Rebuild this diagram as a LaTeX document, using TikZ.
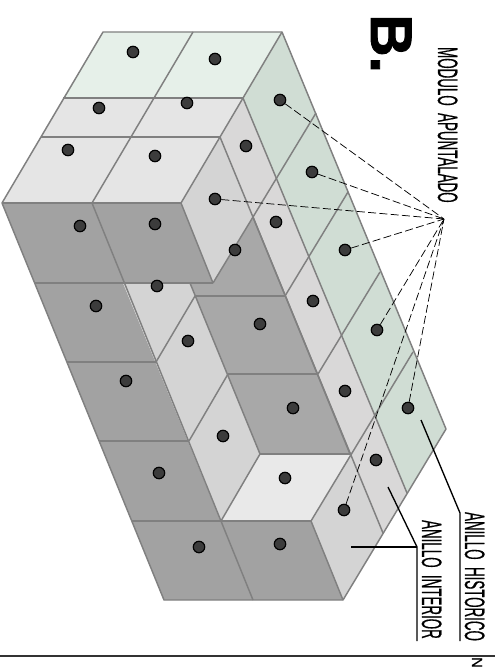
\documentclass[tikz,border=0pt]{standalone}
\usepackage{fontspec}
\setmainfont{Liberation Sans}
\newfontfamily\tagfont[FakeBold=0.7]{Liberation Sans}
\newfontfamily\titlefont[FakeBold=1.5]{Liberation Sans Bold}
\definecolor{darkface}{HTML}{A2A2A2}
\definecolor{floorface}{HTML}{A8A8A8}
\definecolor{wallface}{HTML}{D4D4D4}
\definecolor{ringface}{HTML}{D9D8D8}
\definecolor{topface}{HTML}{E5E5E5}
\definecolor{paleface}{HTML}{E9E9E9}
\definecolor{greentop}{HTML}{E6F0E9}
\definecolor{greenface}{HTML}{D0DDD4}
\definecolor{edgecol}{HTML}{808080}
\definecolor{dotcol}{HTML}{3C3C3C}

\begin{document}
\begin{tikzpicture}[x=0.75pt, y=-0.75pt,
    edge/.style={draw=edgecol, line width=1.1pt, line join=round},
    pin/.style={circle, draw=black, fill=dotcol, line width=0.9pt, minimum size=8.6pt, inner sep=0pt},
    tag/.style={rotate=-90, xscale=0.477, anchor=base west, inner sep=0pt, font=\fontsize{21}{21}\tagfont},
    leader/.style={draw=black, line width=1pt},
    hint/.style={draw=black, line width=0.55pt, dash pattern=on 6pt off 2.5pt}]

    \useasboundingbox (0,0) rectangle (495,667);

    % Top faces
    \fill[greentop] (103,32) -- (282,32) -- (243,98) -- (63,98) -- cycle;
    \fill[topface] (63,98) -- (243,98) -- (181,203) -- (2,203) -- cycle;

    % Outer rings
    \fill[greenface] (282,32) -- (446,429) -- (407,493) -- (243,98) -- cycle;
    \fill[ringface] (243,98) -- (407,493) -- (383,533) -- (220,137) -- cycle;
    \fill[wallface] (220,137) -- (383,533) -- (343,600) -- (311,521) -- (350,454) -- (253,217) -- (213,283) -- (181,203) -- cycle;

    % Dark faces
    \fill[darkface] (2,203) -- (181,203) -- (213,283) -- (123,283) -- (253,600) -- (164,600) -- cycle;
    \fill[darkface] (221,521) -- (311,521) -- (343,600) -- (253,600) -- cycle;
    \fill[floorface] (190,283) -- (213,283) -- (253,217) -- (350,454) -- (260,454) -- (195,296) -- cycle;

    % Central strip
    \fill[wallface] (123,283) -- (190,283) -- (195,296) -- (260,454) -- (221,521) -- cycle;
    \fill[paleface] (221,521) -- (260,454) -- (350,454) -- (311,521) -- cycle;

    % Long edges, going down the block
    \draw[edge] (2,203) -- (164,600) -- (343,600) -- (446,429) -- (282,32) -- (103,32) -- cycle;
    \draw[edge] (92,203) -- (253,600);
    \draw[edge] (181,203) -- (213,283);
    \draw[edge] (220,137) -- (383,533);
    \draw[edge] (243,98) -- (407,493);
    \draw[edge] (190,283) -- (260,454);
    \draw[edge] (253,217) -- (350,454);
    \draw[edge] (311,521) -- (343,600);

    % Cross edges, going up to the right
    \draw[edge] (92,203) -- (193,32);
    \draw[edge] (181,203) -- (282,32);
    \draw[edge] (213,283) -- (316,113);
    \draw[edge] (285,296) -- (348,192);
    \draw[edge] (318,374) -- (380,272);
    \draw[edge] (311,521) -- (413,352);
    \draw[edge] (156,362) -- (195,296);
    \draw[edge] (189,441) -- (228,374);
    \draw[edge] (221,521) -- (260,454);

    % Level edges
    \draw[edge] (63,98) -- (243,98);
    \draw[edge] (41,137) -- (220,137);
    \draw[edge] (2,203) -- (181,203);
    \draw[edge] (34,283) -- (213,283);
    \draw[edge] (67,362) -- (156,362);
    \draw[edge] (99,441) -- (189,441);
    \draw[edge] (132,521) -- (311,521);
    \draw[edge] (195,296) -- (285,296);
    \draw[edge] (228,374) -- (318,374);
    \draw[edge] (260,454) -- (350,454);

    % Pins
    \foreach \px/\py [count=\i] in {280/100, 312/172, 215/199, 345/250, 377/330, 408/408, 344/510,
        133/52, 215/59, 99/108, 187/103, 68/150, 155/156, 246/146,
        80/226, 155/224, 235/250, 276/222, 157/286, 96/306, 313/301, 260/324,
        188/341, 126/381, 223/436, 293/408, 345/391, 159/473, 376/460, 285/478, 199/547, 280/544}
        \node[pin] (pin\i) at (\px,\py) {};

    % Pointers to the shoring label
    \coordinate (hub) at (444,219);
    \foreach \i in {1,...,7}
        \draw[hint] (pin\i) -- (hub);

    % Ring leaders
    \coordinate (histtop) at (460,513);
    \coordinate (histend) at (460,641);
    \coordinate (histtip) at (421,420);
    \coordinate (intknee) at (417,547);
    \coordinate (intend) at (417,641);
    \coordinate (inttipa) at (388,487);
    \coordinate (inttipb) at (351,547);
    \draw[leader] (histtip) -- (histtop) -- (histend);
    \draw[leader] (inttipa) -- (intknee) -- (intend);
    \draw[leader] (inttipb) -- (intknee);

    % Labels
    \node[rotate=-90, anchor=base west, inner sep=0pt, font=\fontsize{44}{44}\titlefont] (title) at (371,14) {B.};
    \node[tag] (shoring) at (438,47) {MODULO\hspace{.55em}APUNTALADO};
    \node[tag] (hist) at (465,512) {ANILLO\hspace{.55em}HISTORICO};
    \node[tag] (inter) at (422,520) {ANILLO\hspace{.55em}INTERIOR};

    % Bottom rule
    \coordinate (rulea) at (0,656);
    \coordinate (ruleb) at (495,656);
    \draw[black!80, line width=0.8pt] (rulea) -- (ruleb);
    \node[rotate=-90, anchor=base west, inner sep=0pt, font=\fontsize{11}{11}\tagfont] (mark) at (472,657) {N};

\end{tikzpicture}
\end{document}
